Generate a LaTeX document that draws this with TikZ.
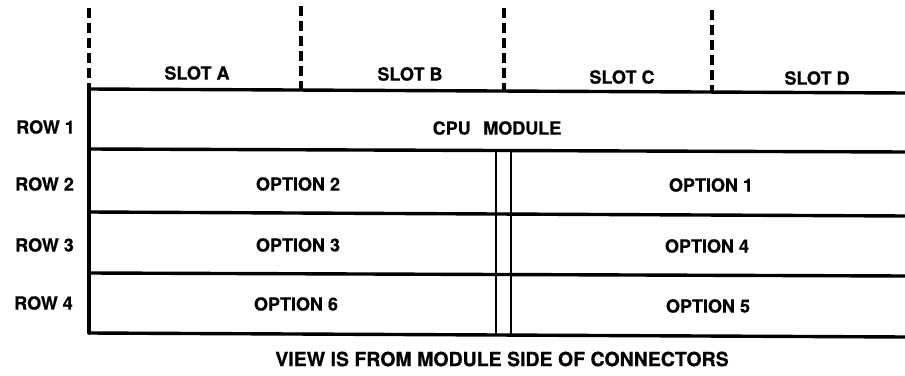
\documentclass[tikz,border=0pt]{standalone}
\usepackage{fontspec}
\setmainfont{TeX Gyre Heros}[BoldFeatures={FakeBold=0.6}]
\begin{document}
\begin{tikzpicture}[x=1pt,y=-1pt,
  lbl/.style={font=\fontsize{18}{18}\selectfont\bfseries, inner sep=0pt, anchor=center},
  rowlbl/.style={font=\fontsize{18}{18}\selectfont\bfseries, inner sep=0pt, anchor=east},
  captext/.style={font=\fontsize{19.5}{19.5}\selectfont\bfseries, inner sep=0pt, anchor=center},
  solidline/.style={line width=3.4pt, line cap=round},
  slotdash/.style={line width=3.2pt, dash pattern=on 10pt off 5pt},
  sepline/.style={line width=2.6pt}]
\useasboundingbox[fill=white] (0,0) rectangle (905,375);
% slot boundaries
\coordinate (sa) at (89,8);
\coordinate (sb) at (301,6);
\coordinate (sc) at (504,8);
\coordinate (sd) at (712,10);
\draw[slotdash] (sa) -- (89,89);
\draw[slotdash] (sb) -- (301,89);
\draw[slotdash] (sc) -- (504,91);
\draw[slotdash] (sd) -- (712,92);
% frame
\coordinate (tl) at (89,89);
\coordinate (bl) at (89,333);
\draw[solidline] (tl) -- (bl);
\draw[solidline] (89,89) -- (906,93);
\draw[solidline] (89,149) -- (906,152);
\draw[solidline] (89,212) -- (906,216);
\draw[solidline] (89,273) -- (906,276);
\draw[solidline] (89,333) -- (906,337);
% double separator
\draw[sepline] (496,150) -- (496,335);
\draw[sepline] (511,150) -- (511,335);
% slot labels
\node[lbl] (slA) at (197,73) {SLOT A};
\node[lbl] (slB) at (410,74) {SLOT B};
\node[lbl] (slC) at (622,77) {SLOT C};
\node[lbl] (slD) at (817,78) {SLOT D};
% row labels
\node[rowlbl] (r1) at (75,127) {ROW 1};
\node[rowlbl] (r2) at (74,184) {ROW 2};
\node[rowlbl] (r3) at (74,245) {ROW 3};
\node[rowlbl] (r4) at (73,303) {ROW 4};
% contents
\node[lbl] (cpu) at (497,128) {CPU\hspace{0.7em}MODULE};
\node[lbl] (o2) at (298,184) {OPTION 2};
\node[lbl] (o1) at (711,185) {OPTION 1};
\node[lbl] (o3) at (298,245) {OPTION 3};
\node[lbl] (o4) at (707,246) {OPTION 4};
\node[lbl] (o6) at (296,304) {OPTION 6};
\node[lbl] (o5) at (708,306) {OPTION 5};
% caption
\node[captext] (caption) at (502,359) {VIEW IS FROM MODULE SIDE OF CONNECTORS};
\end{tikzpicture}
\end{document}
